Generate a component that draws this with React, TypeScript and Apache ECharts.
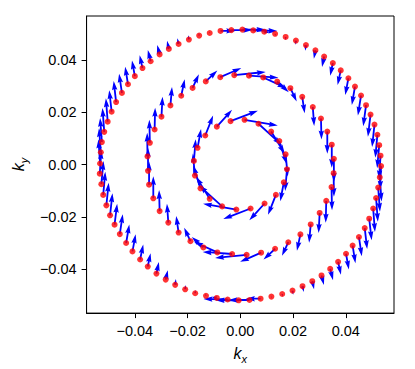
import React, { useEffect, useRef } from "react";
import * as echarts from "echarts";

// ---- Axis ticks ----
const X_TICKS = [-0.04, -0.02, 0, 0.02, 0.04];
const X_TICK_LABELS = ["\u22120.04", "\u22120.02", "0.00", "0.02", "0.04"];
const Y_TICKS = [-0.04, -0.02, 0, 0.02, 0.04];
const Y_TICK_LABELS = ["\u22120.04", "\u22120.02", "0.00", "0.02", "0.04"];
const X_RANGE = [-0.0583, 0.0583];
const Y_RANGE = [-0.0568, 0.0568];

// ---- Outer contour ----
const OUTER_KX = [
  0.0008, 0.0049, 0.0091, 0.0132, 0.0172, 0.0211, 0.0249, 0.0285, 0.0318, 0.0351,
  0.0381, 0.041, 0.0435, 0.0458, 0.0477, 0.0494, 0.0509, 0.052, 0.0527, 0.0532,
  0.0534, 0.0529, 0.0523, 0.0515, 0.0504, 0.0489, 0.0472, 0.045, 0.0426, 0.0401,
  0.0371, 0.0341, 0.0308, 0.0273, 0.0236, 0.0198, 0.0159, 0.0118, 0.0077, 0.0035,
  -0.0006, -0.0048, -0.0089, -0.013, -0.0171, -0.0209, -0.0247, -0.0283, -0.0318, -0.0351,
  -0.038, -0.0409, -0.0433, -0.0457, -0.0477, -0.0494, -0.0508, -0.052, -0.0527, -0.0533,
  -0.0532, -0.0529, -0.0525, -0.0516, -0.0503, -0.0488, -0.0471, -0.0449, -0.0426, -0.04,
  -0.0371, -0.034, -0.0306, -0.0271, -0.0234, -0.0195, -0.0156, -0.0116, -0.0075, -0.0034,
];
const OUTER_KY = [
  0.0516, 0.0513, 0.0508, 0.05, 0.0488, 0.0474, 0.0457, 0.0437, 0.0413, 0.0388,
  0.036, 0.033, 0.0298, 0.0264, 0.0227, 0.0191, 0.0153, 0.0114, 0.0074, 0.0034,
  -0.0006, -0.0049, -0.0088, -0.0128, -0.0168, -0.0207, -0.0243, -0.0277, -0.031, -0.0341,
  -0.0372, -0.0399, -0.0424, -0.0446, -0.0465, -0.0482, -0.0495, -0.0505, -0.0513, -0.0518,
  -0.0519, -0.0516, -0.051, -0.0502, -0.0492, -0.0477, -0.046, -0.044, -0.0417, -0.039,
  -0.0363, -0.0332, -0.03, -0.0266, -0.023, -0.0194, -0.0156, -0.0116, -0.0075, -0.0035,
  0.0004, 0.0047, 0.0086, 0.0125, 0.0164, 0.0202, 0.0239, 0.0274, 0.0307, 0.0338,
  0.0369, 0.0395, 0.0421, 0.0442, 0.0461, 0.0478, 0.0493, 0.0503, 0.0511, 0.0514,
];
const OUTER_U = [
  22, 23, 5, 0.5, 0, -0.3, -0.7, -1.5, -2, -2.5,
  -3, -3, -3, -3, -2.7, -2.5, -2.3, -2, -2, -1.5,
  -1, 1.7, 1.7, 1.7, 1.7, 2.3, 2.3, 2.7, 2.7, 2.7,
  2.7, 2.7, 2.3, 1.7, 1.2, 0.7, 0.3, 0, -14, -20,
  -22, -23, -5, -0.5, 0, 0.3, 0.7, 2, 2.3, 2.7,
  3, 3, 3, 2.8, 2.5, 2.3, 2.2, 2, 2, 1.5,
  -1.5, -1.7, -1.7, -1.7, -1.7, -2.3, -2.3, -2.7, -2.7, -2.7,
  -2.7, -2.7, -2.3, -1.7, -1.2, -0.7, -0.3, 0, 14, 20,
];
const OUTER_V = [
  0, -0.5, -1, -2, -3, -4, -5.5, -8, -10, -12,
  -14, -16, -17.5, -19, -20, -21, -21.5, -22, -22, -22.5,
  -22.5, -23, -23, -22.7, -22.3, -20.5, -20, -18.3, -16.7, -15,
  -12.3, -10.7, -9, -7.7, -5.5, -4, -2.5, -1.5, 0, 0,
  0, 0.5, 1, 2, 3, 4, 5.5, 9, 11, 12.7,
  14.2, 16.2, 17.6, 19, 20, 21, 21.5, 22, 22, 22.5,
  23, 23, 23, 22.7, 22.3, 20.5, 20, 18.3, 16.7, 15,
  12.3, 10.7, 9, 7.7, 5.5, 4, 2.5, 1.5, 0, 0,
];

// ---- Middle contour ----
const MIDDLE_KX = [
  -0.0023, 0.0033, 0.0087, 0.014, 0.019, 0.0235, 0.0275, 0.0306, 0.033, 0.0347,
  0.0355, 0.0354, 0.0346, 0.0326, 0.0301, 0.0267, 0.0228, 0.0182, 0.0132, 0.0079,
  0.0024, -0.0031, -0.0087, -0.014, -0.0189, -0.0234, -0.0273, -0.0306, -0.033, -0.0346,
  -0.035, -0.0352, -0.0343, -0.0325, -0.0299, -0.0265, -0.0224, -0.0181, -0.0131, -0.0076,
];
const MIDDLE_KY = [
  0.0342, 0.034, 0.0333, 0.0317, 0.0292, 0.0259, 0.022, 0.0176, 0.0126, 0.0076,
  0.0022, -0.0033, -0.0086, -0.0139, -0.0185, -0.0229, -0.0267, -0.0297, -0.0322, -0.0337,
  -0.0345, -0.0342, -0.0336, -0.0317, -0.0293, -0.026, -0.0222, -0.0178, -0.0129, -0.0077,
  -0.0024, 0.0031, 0.0083, 0.0134, 0.0183, 0.0226, 0.0263, 0.0293, 0.0318, 0.0334,
];
const MIDDLE_U = [
  30, 28, 22, 11, 6, 2.3, 1.3, 0.5, 0, 0,
  0, 0.3, 0.5, -0.5, -1, -1.5, -3.3, -6, -11, -20,
  -30, -28, -22, -11, -6, -2.3, -1.3, -0.5, 0, 0,
  0, -0.3, -0.5, 0.5, 1, 1.5, 3.3, 6, 11, 20,
];
const MIDDLE_V = [
  3, -2, -10, -10, -12.7, -15.7, -18, -20, -21, -22,
  -22, -22.5, -22, -20.7, -19, -17.5, -15.7, -13, -10.3, -8.7,
  -3, 2, 10, 10, 12.7, 15.7, 18, 20, 21, 22,
  22, 22.5, 22, 20.7, 19, 17.5, 15.7, 13, 10.3, 8.7,
];

// ---- Inner contour ----
const INNER_KX = [
  -0.0037, 0.0016, 0.0069, 0.0117, 0.0148, 0.0172, 0.0177, 0.0165, 0.0135, 0.0092,
  0.0039, -0.0015, -0.0069, -0.0116, -0.0151, -0.0172, -0.0176, -0.0162, -0.0133, -0.0089,
];
const INNER_KY = [
  0.0166, 0.0171, 0.0156, 0.0126, 0.009, 0.0039, -0.0018, -0.0068, -0.0116, -0.0149,
  -0.0168, -0.0172, -0.016, -0.0131, -0.0091, -0.0042, 0.0014, 0.0064, 0.0111, 0.0145,
];
const INNER_U = [
  26, 31.7, 22, 13, 7, 2, -1.7, -3.3, -7.5, -14.5,
  -26, -31.7, -22, -13, -7, -2, 1.7, 3.3, 7.5, 14.5,
];
const INNER_V = [
  10, -5.5, -20, -21, -22, -21, -20.7, -18, -19, -16,
  -10, 5.5, 20, 21, 22, 21, 20.7, 18, 19, 16,
];

// quiver scale: pixels per vector unit
const ARROW_SCALE = 1.05;
const FONT = "Liberation Sans, Arial, Helvetica, sans-serif";

function toQuiver(kx: number[], ky: number[], u: number[], v: number[]) {
  return kx.map((x, i) => [x, ky[i], u[i], v[i]]);
}
function toPoints(kx: number[], ky: number[]) {
  return kx.map((x, i) => [x, ky[i]]);
}

// matplotlib-like quiver arrow polygon (pixel space)
function arrowPolygon(x0: number, y0: number, dx: number, dy: number) {
  const L = Math.hypot(dx, dy);
  if (L < 0.3) return null;
  const w = 1.8;
  let hl = 5 * w, hal = 4.5 * w, hw = 1.5 * w, sw = 0.5 * w;
  if (L < hl) {
    const s = L / hl;
    hl *= s; hal *= s; hw *= s; sw *= s;
  }
  const ux = dx / L, uy = dy / L;
  const px = -uy, py = ux;
  const local = [
    [0, -sw], [L - hal, -sw], [L - hl, -hw], [L, 0], [L - hl, hw], [L - hal, sw], [0, sw],
  ];
  return local.map(([a, b]) => [x0 + ux * a + px * b, y0 + uy * a + py * b]);
}

function labelFor(values: number[], labels: string[]) {
  return (v: number) => {
    let best = 0;
    for (let i = 1; i < values.length; i++) {
      if (Math.abs(values[i] - v) < Math.abs(values[best] - v)) best = i;
    }
    return Math.abs(values[best] - v) < 1e-6 ? labels[best] : "";
  };
}

function quiverSeries(data: number[][]) {
  return {
    type: "custom",
    coordinateSystem: "cartesian2d",
    data,
    encode: { x: 0, y: 1 },
    z: 2,
    silent: true,
    renderItem: (_params: any, api: any) => {
      const p0 = api.coord([api.value(0), api.value(1)]);
      const dx = api.value(2) * ARROW_SCALE;
      const dy = -api.value(3) * ARROW_SCALE;
      const pts = arrowPolygon(p0[0], p0[1], dx, dy);
      if (!pts) return { type: "group", children: [] };
      return { type: "polygon", shape: { points: pts }, style: { fill: "#0000ff" } };
    },
  };
}

function scatterSeries(data: number[][]) {
  return {
    type: "scatter",
    data,
    symbol: "circle",
    symbolSize: 6,
    itemStyle: { color: "#ff0000" },
    z: 3,
    silent: true,
  };
}

function axisCommon(ticks: number[], labels: string[]) {
  return {
    type: "value",
    splitLine: { show: false },
    axisLine: { show: true, onZero: false, lineStyle: { color: "#000", width: 1 } },
    axisTick: { show: true, length: 5, customValues: ticks, lineStyle: { color: "#000", width: 1 } },
    axisLabel: {
      customValues: ticks,
      formatter: labelFor(ticks, labels),
      color: "#000",
      fontSize: 14.5,
      fontFamily: FONT,
    },
  };
}

const NAME_RICH = {
  k: { fontFamily: FONT, fontStyle: "italic", fontSize: 16, color: "#000", lineHeight: 22 },
  s: { fontFamily: FONT, fontStyle: "italic", fontSize: 11, color: "#000", lineHeight: 11, padding: [10, 0, 0, 0] },
};

export default function App() {
  const ref = useRef<HTMLDivElement>(null);
  useEffect(() => {
    if (!ref.current) return;
    const chart = echarts.init(ref.current, undefined, { renderer: "svg" });
    const xBase: any = axisCommon(X_TICKS, X_TICK_LABELS);
    const yBase: any = axisCommon(Y_TICKS, Y_TICK_LABELS);
    chart.setOption({
      animation: false,
      backgroundColor: "#fff",
      grid: { left: 84, top: 16, width: 310, height: 300, show: true, borderColor: "#000", borderWidth: 1 },
      xAxis: {
        ...xBase,
        min: X_RANGE[0],
        max: X_RANGE[1],
        axisLabel: { ...xBase.axisLabel, margin: 10 },
        name: "{k|k}{s|x}",
        nameLocation: "middle",
        nameGap: 23,
        nameTextStyle: { rich: NAME_RICH },
      },
      yAxis: {
        ...yBase,
        min: Y_RANGE[0],
        max: Y_RANGE[1],
        axisLabel: { ...yBase.axisLabel, margin: 10 },
        name: "{k|k}{s|y}",
        nameLocation: "middle",
        nameGap: 56,
        nameTextStyle: { rich: NAME_RICH },
      },
      series: [
        quiverSeries(toQuiver(OUTER_KX, OUTER_KY, OUTER_U, OUTER_V)),
        quiverSeries(toQuiver(MIDDLE_KX, MIDDLE_KY, MIDDLE_U, MIDDLE_V)),
        quiverSeries(toQuiver(INNER_KX, INNER_KY, INNER_U, INNER_V)),
        scatterSeries(toPoints(OUTER_KX, OUTER_KY)),
        scatterSeries(toPoints(MIDDLE_KX, MIDDLE_KY)),
        scatterSeries(toPoints(INNER_KX, INNER_KY)),
      ],
    });
    return () => chart.dispose();
  }, []);
  return (
    <div
      ref={ref}
      style={{ position: "fixed", left: 0, top: 0, width: 415, height: 369, background: "#fff" }}
    />
  );
}
